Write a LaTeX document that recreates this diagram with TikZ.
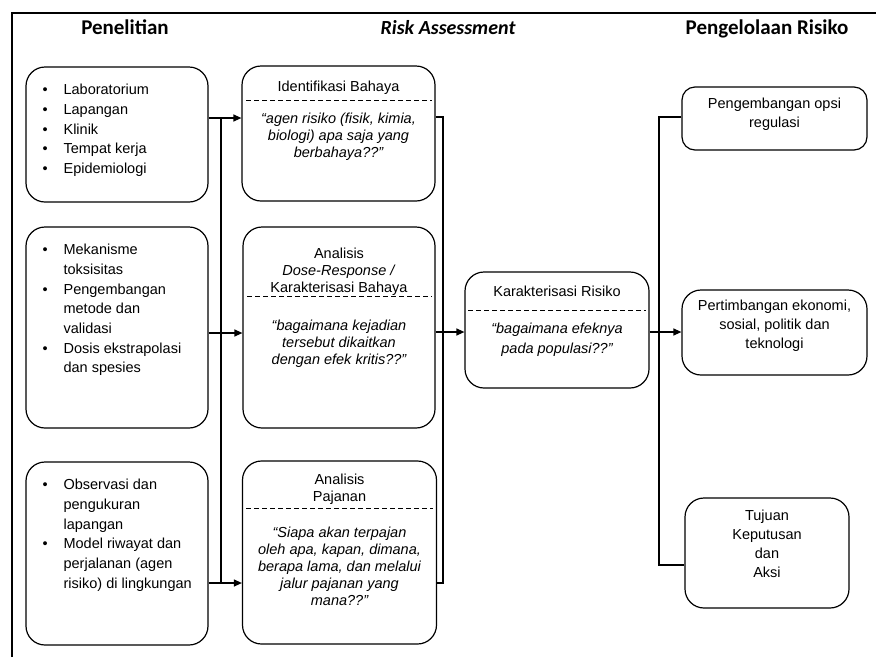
\documentclass[tikz,border=0pt]{standalone}
\usepackage{fontspec}
\setmainfont{Liberation Sans}
\newfontfamily\headfont{Carlito}
\usetikzlibrary{arrows.meta}
\tikzset{pin/.style={-{Triangle[length=8pt,width=7pt]}},
  box/.style={draw, rounded corners=19pt, inner sep=0pt},
  sep/.style={dash pattern=on 5pt off 3pt, line width=0.8pt},
  head/.style={anchor=base, font=\headfont\fontsize{21}{24}\selectfont\bfseries},
  txt/.style={anchor=north, inner sep=0pt, align=center},
  quo/.style={txt, font=\fontsize{14.5}{17}\selectfont\itshape}}
\newcommand\itm{\llap{\textbullet\hspace{16pt}}}

\begin{document}
\begin{tikzpicture}[x=1pt, y=-1pt, line width=1.2pt, font=\fontsize{14.5}{17}\selectfont]
  \useasboundingbox (0,0) rectangle (876,657);
  \draw[line width=1.5pt] (12,657) -- (12,13) -- (876,13);
  % column headings
  \node[head] (hpen) at (125,34) {Penelitian};
  \node[head, font=\headfont\fontsize{20}{24}\selectfont\bfseries\itshape] (hrisk) at (448,34) {Risk Assessment};
  \node[head] (hman) at (767,34) {Pengelolaan Risiko};
  % boxes: name/x/y/width/height
  \foreach \n/\x/\y/\w/\h in {lab/117/134.5/182/135, mek/117/327.5/182/201, obs/117/553.5/182/183,
      idb/338.5/133.5/193/135, drb/339/327.5/192/201, pjn/339.5/552.5/194/183,
      kar/557/330/184/116, eko/774.5/332.5/185/85, tuj/767/553/164/110}
    \node[box, minimum width=\w, minimum height=\h] (\n) at (\x,\y) {};
  \node[box, rounded corners=13pt, minimum width=185, minimum height=63] (reg) at (774.5,118.5) {};
  % research lists
  \node[anchor=north west, inner sep=0pt, align=left, font=\fontsize{14.5}{19.7}\selectfont] (labt) at (63,83.6)
    {\itm Laboratorium\\ \itm Lapangan\\ \itm Klinik\\ \itm Tempat kerja\\ \itm Epidemiologi};
  \node[anchor=north west, inner sep=0pt, align=left, font=\fontsize{14.5}{19.7}\selectfont] (mekt) at (63,243.6)
    {\itm Mekanisme\\ toksisitas\\ \itm Pengembangan\\ metode dan\\ validasi\\ \itm Dosis ekstrapolasi\\ dan spesies};
  \node[anchor=north west, inner sep=0pt, align=left, font=\fontsize{14.5}{19.7}\selectfont] (obst) at (63,478.6)
    {\itm Observasi dan\\ pengukuran\\ lapangan\\ \itm Model riwayat dan\\ perjalanan (agen\\ risiko) di lingkungan};
  % assessment steps
  \node[txt] (idbh) at (338.5,80.6) {Identifikasi Bahaya};
  \node[quo] (idbq) at (338.5,112.6) {``agen risiko (fisik, kimia,\\ biologi) apa saja yang\\ berbahaya??''};
  \node[txt] (drbh) at (339,247.6) {Analisis\\ \textit{Dose-Response /}\\ Karakterisasi Bahaya};
  \node[quo] (drbq) at (339,319.6) {``bagaimana kejadian\\ tersebut dikaitkan\\ dengan efek kritis??''};
  \node[txt] (pjnh) at (339.5,473.6) {Analisis\\ Pajanan};
  \node[quo] (pjnq) at (339.5,526.6) {``Siapa akan terpajan\\ oleh apa, kapan, dimana,\\ berapa lama, dan melalui\\ jalur pajanan yang\\ mana??''};
  \node[txt] (karh) at (557,285.6) {Karakterisasi Risiko};
  \node[quo, font=\fontsize{14.5}{20}\selectfont\itshape] (karq) at (557,322.6) {``bagaimana efeknya\\ pada populasi??''};
  % management
  \node[txt, font=\fontsize{14.5}{19}\selectfont] (regt) at (774.5,97.6) {Pengembangan opsi\\ regulasi};
  \node[txt, font=\fontsize{14.5}{19}\selectfont] (ekot) at (774.5,299.6) {Pertimbangan ekonomi,\\ sosial, politik dan\\ teknologi};
  \node[txt, font=\fontsize{14.5}{19}\selectfont] (tujt) at (767,509.6) {Tujuan\\ Keputusan\\ dan\\ Aksi};
  % dashed separators
  \draw[sep] (246,100) -- (432,100);
  \draw[sep] (247,296) -- (432,296);
  \draw[sep] (246,508) -- (433,508);
  \draw[sep] (468,310) -- (646,310);
  % research -> assessment
  \foreach \a/\b/\y in {lab/idb/118, mek/drb/333, obs/pjn/583}
    \draw[pin] (\a.east |- 0,\y) -- (\b.west |- 0,\y);
  \coordinate (la) at (221,118);
  \coordinate (lb) at (221,583);
  \draw (la) -- (lb);
  % assessment -> characterisation
  \coordinate (ma) at (443,117);
  \coordinate (mb) at (443,583);
  \draw (idb.east |- ma) -- (ma) -- (mb) -- (pjn.east |- mb);
  \draw[pin] (drb.east |- 0,332) -- (kar.west |- 0,332);
  % characterisation -> management
  \coordinate (ra) at (659,117);
  \coordinate (rb) at (659,565);
  \draw (reg.west |- ra) -- (ra) -- (rb) -- (tuj.west |- rb);
  \draw[pin] (kar.east |- 0,332) -- (eko.west |- 0,332);
\end{tikzpicture}
\end{document}
